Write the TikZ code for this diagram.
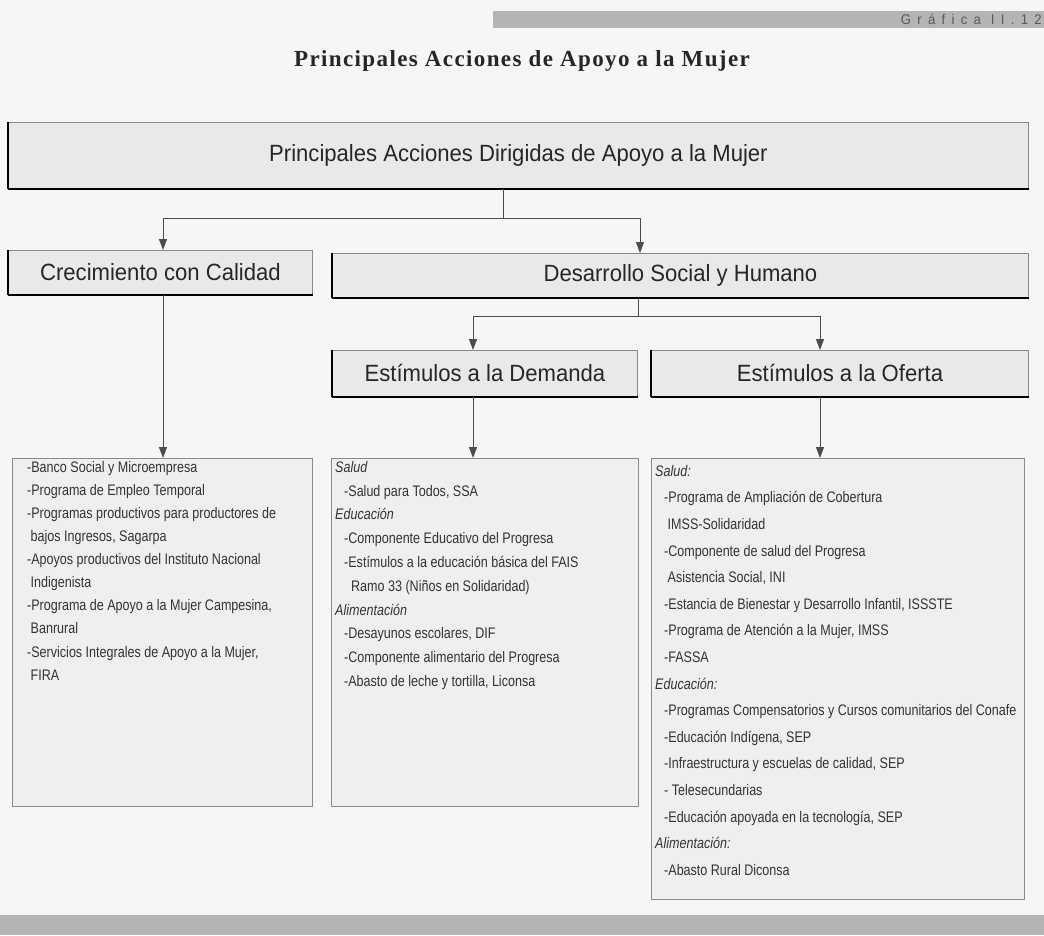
\documentclass[tikz,border=0pt]{standalone}
\usepackage{fontspec}
\setmainfont{Liberation Serif}
\newfontfamily\nar[FakeStretch=0.94]{Liberation Sans}
\newfontfamily\lnar[FakeStretch=0.82]{Liberation Sans}
\usetikzlibrary{arrows.meta}
\definecolor{pagebg}{HTML}{F6F6F4}
\definecolor{boxfill}{HTML}{E9E9E7}
\definecolor{listfill}{HTML}{EFEFED}
\definecolor{edge}{HTML}{8A8A8A}
\definecolor{shade}{HTML}{5A5A5A}
\definecolor{bar}{HTML}{B4B4B4}
\newcommand{\ind}{\hspace*{9pt}}
\tikzset{
  hbox/.style={draw=edge, fill=boxfill, line width=0.9pt, inner sep=0pt, anchor=north west, font=\nar\fontsize{23.5}{26}\selectfont, text=black!85},
  lbox/.style={draw=edge, fill=listfill, line width=0.9pt, inner sep=0pt, anchor=north west},
  ltext/.style={anchor=north west, inner sep=0pt, align=left, text=black!80},
  conn/.style={draw=black!70, line width=1pt},
  arr/.style={conn, -{Triangle[length=11pt,width=8pt]}},
}
\begin{document}
\begin{tikzpicture}[x=1pt,y=-1pt]
\fill[pagebg] (0,0) rectangle (1044,935);
\useasboundingbox (0,0) rectangle (1044,935);
% top banner and bottom bar
\fill[bar] (493,11) rectangle (1044,28);
\node[anchor=east, inner sep=0pt, text=black!65, font=\nar\fontsize{14}{14}\selectfont\addfontfeature{LetterSpace=45}] (gr) at (1042,19.5) {Gráfica II.12};
\fill[bar] (0,915) rectangle (1044,935);
% title
\node[font=\bfseries\fontsize{23}{26}\selectfont\addfontfeature{LetterSpace=6}, text=black!85] (title) at (522,61) {Principales Acciones de Apoyo a la Mujer};
% header boxes
\node[hbox, minimum width=1020, minimum height=66] (top) at (8,122) {Principales Acciones Dirigidas de Apoyo a la Mujer};
\node[hbox, minimum width=304, minimum height=44] (crec) at (8,250) {Crecimiento con Calidad};
\node[hbox, minimum width=696, minimum height=44] (des) at (332,253) {Desarrollo Social y Humano};
\node[hbox, minimum width=305, minimum height=46] (dem) at (332,350) {Estímulos a la Demanda};
\node[hbox, minimum width=377, minimum height=46] (ofe) at (651,350) {Estímulos a la Oferta};
\foreach \n in {top,crec,des,dem,ofe}{
  \draw[shade, line width=2pt] (\n.south west) -- (\n.south east);
  \draw[shade, line width=1.4pt] (\n.south west) -- (\n.north west);
}
% list boxes
\node[lbox, minimum width=300, minimum height=348] (l1) at (12,458) {};
\node[lbox, minimum width=307, minimum height=348] (l2) at (331,458) {};
\node[lbox, minimum width=373, minimum height=441] (l3) at (651,458) {};
\node[ltext, font=\lnar\fontsize{15.3}{23.1}\selectfont] (t1) at ([xshift=15pt,yshift=-3pt]l1.north west) {%
-Banco Social y Microempresa\\
-Programa de Empleo Temporal\\
-Programas productivos para productores de\\
\ bajos Ingresos, Sagarpa\\
-Apoyos productivos del Instituto Nacional\\
\ Indigenista\\
-Programa de Apoyo a la Mujer Campesina,\\
\ Banrural\\
-Servicios Integrales de Apoyo a la Mujer,\\
\ FIRA};
\node[ltext, font=\lnar\fontsize{15.3}{23.8}\selectfont] (t2) at ([xshift=4pt,yshift=-3pt]l2.north west) {%
\textit{Salud}\\
\ind-Salud para Todos, SSA\\
\textit{Educación}\\
\ind-Componente Educativo del Progresa\\
\ind-Estímulos a la educación básica del FAIS\\
\ind\ \ Ramo 33 (Niños en Solidaridad)\\
\textit{Alimentación}\\
\ind-Desayunos escolares, DIF\\
\ind-Componente alimentario del Progresa\\
\ind-Abasto de leche y tortilla, Liconsa};
\node[ltext, font=\lnar\fontsize{15.3}{26.6}\selectfont] (t3) at ([xshift=4pt,yshift=-7pt]l3.north west) {%
\textit{Salud:}\\
\ind-Programa de Ampliación de Cobertura\\
\ind\ IMSS-Solidaridad\\
\ind-Componente de salud del Progresa\\
\ind\ Asistencia Social, INI\\
\ind-Estancia de Bienestar y Desarrollo Infantil, ISSSTE\\
\ind-Programa de Atención a la Mujer, IMSS\\
\ind-FASSA\\
\textit{Educación:}\\
\ind-Programas Compensatorios y Cursos comunitarios del Conafe\\
\ind-Educación Indígena, SEP\\
\ind-Infraestructura y escuelas de calidad, SEP\\
\ind- Telesecundarias\\
\ind-Educación apoyada en la tecnología, SEP\\
\textit{Alimentación:}\\
\ind-Abasto Rural Diconsa};
% connectors
\coordinate (j1) at (503,218);
\coordinate (dx) at (640,0);
\coordinate (j2) at (638,316);
\coordinate (mx) at (473,0);
\coordinate (ox) at (820,0);
\coordinate (cx) at (163,0);
\draw[conn] (top.south -| j1) -- (j1);
\draw[arr] (j1) -| (crec.north -| cx);
\draw[arr] (j1) -| (des.north -| dx);
\draw[conn] (des.south -| j2) -- (j2);
\draw[arr] (j2) -| (dem.north -| mx);
\draw[arr] (j2) -| (ofe.north -| ox);
\draw[arr] (crec.south -| cx) -- (l1.north -| cx);
\draw[arr] (dem.south -| mx) -- (l2.north -| mx);
\draw[arr] (ofe.south -| ox) -- (l3.north -| ox);
\end{tikzpicture}
\end{document}
